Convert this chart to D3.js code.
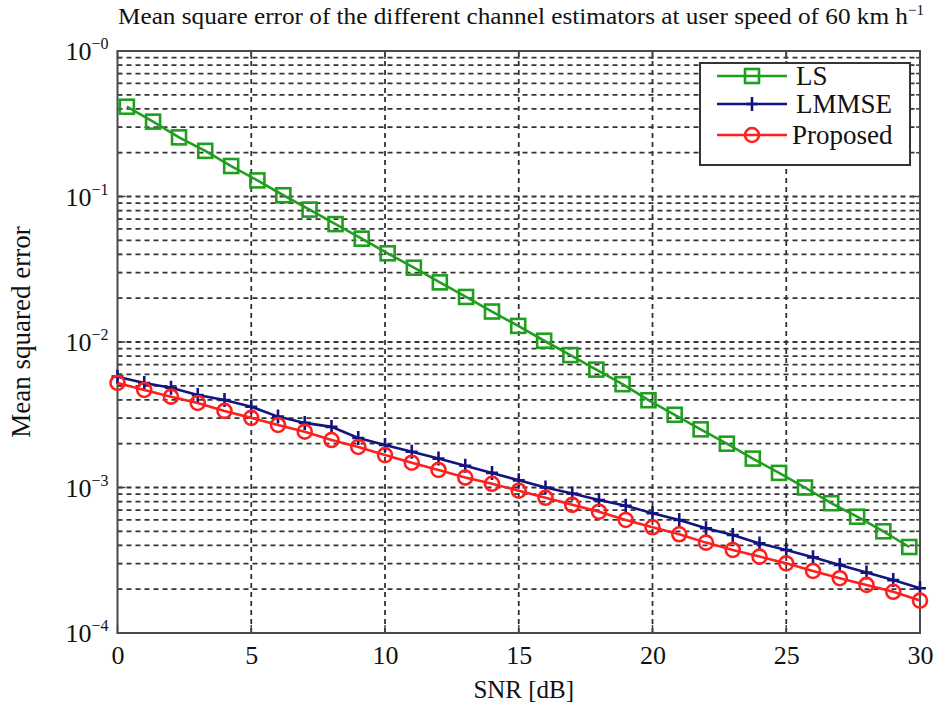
<!DOCTYPE html>
<html>
<head>
<meta charset="utf-8">
<script src="https://cdn.jsdelivr.net/npm/d3@7"></script>
<style>
  body { margin: 0; background: #fff; }
  svg text { font-family: "Liberation Serif", "Times New Roman", Tinos, Times, serif; fill: #111; }
</style>
</head>
<body>
<div id="chart"></div>
<script>
// values
var snr = [0,1,2,3,4,5,6,7,8,9,10,11,12,13,14,15,16,17,18,19,20,21,22,23,24,25,26,27,28,29,30];
var lmmse = [5.78e-3,5.22e-3,4.85e-3,4.32e-3,3.99e-3,3.59e-3,3.07e-3,2.78e-3,2.61e-3,2.19e-3,1.96e-3,
             1.76e-3,1.58e-3,1.41e-3,1.26e-3,1.12e-3,1.0e-3,9.1e-4,8.2e-4,7.5e-4,6.65e-4,5.98e-4,
             5.25e-4,4.72e-4,4.13e-4,3.72e-4,3.31e-4,2.93e-4,2.60e-4,2.31e-4,2.03e-4];
var proposed = [5.23e-3,4.68e-3,4.21e-3,3.81e-3,3.36e-3,3.01e-3,2.69e-3,2.42e-3,2.12e-3,1.90e-3,1.67e-3,
                1.48e-3,1.32e-3,1.17e-3,1.06e-3,9.5e-4,8.5e-4,7.6e-4,6.82e-4,5.98e-4,5.33e-4,4.77e-4,
                4.18e-4,3.72e-4,3.35e-4,3.01e-4,2.67e-4,2.38e-4,2.14e-4,1.92e-4,1.67e-4];
// LS markers sit a little off the integer SNR values in the picture
var lsSnr = [0.35,1.33,2.30,3.28,4.25,5.23,6.20,7.18,8.15,9.13,10.10,11.08,12.05,13.03,14.00,14.98,
             15.95,16.93,17.90,18.88,19.85,20.83,21.80,22.78,23.75,24.73,25.70,26.68,27.65,28.63,29.60];
var ls = [0.414,0.327,0.255,0.206,0.162,0.129,0.102,0.0813,0.0646,0.0513,0.0407,0.0324,0.0257,0.0204,
          0.0162,0.0129,0.0102,0.00813,0.00646,0.00513,0.00398,0.00316,0.00251,0.0020,0.00158,0.00126,
          0.0010,0.00078,0.00063,0.0005,0.00039];
var xTicks = [0,5,10,15,20,25,30];
var yDecades = [1,0.1,0.01,0.001,0.0001];
var yTickLabels = ["\u22120","\u22121","\u22122","\u22123","\u22124"];
var seriesNames = ["LS","LMMSE","Proposed"];
var seriesColors = ["#1f9e1f","#14147f","#ff1f1f"];

var width = 940, height = 706;
var margin = {left: 117.5, right: 20, top: 51, bottom: 73};

var svg = d3.select("#chart").append("svg")
    .attr("width", width)
    .attr("height", height);

var x = d3.scaleLinear().domain([0, 30]).range([margin.left, width - margin.right]);
var y = d3.scaleLog().domain([1e-4, 1]).range([height - margin.bottom, margin.top]);

// grid
var minor = [];
yDecades.forEach(function(d) {
    if (d < 1) for (var k = 1; k <= 9; k++) minor.push(d * k);
});

var grid = svg.append("g").attr("class", "grid");
grid.selectAll("line.h").data(minor.filter(function(v) { return v > 1e-4 && v < 1; }))
    .enter().append("line")
    .attr("x1", x(0)).attr("x2", x(30))
    .attr("y1", function(d) { return y(d); }).attr("y2", function(d) { return y(d); })
    .attr("stroke", "#333").attr("stroke-width", 1.8).attr("stroke-dasharray", "5,4");
grid.selectAll("line.v").data(xTicks.slice(1, -1))
    .enter().append("line")
    .attr("y1", y(1e-4)).attr("y2", y(1))
    .attr("x1", function(d) { return x(d); }).attr("x2", function(d) { return x(d); })
    .attr("stroke", "#333").attr("stroke-width", 1.8).attr("stroke-dasharray", "5,4");

// axes
var xAxis = d3.axisBottom(x).tickValues(xTicks).tickSize(0).tickPadding(13)
    .tickFormat(function(d) { return d; });
var gx = svg.append("g").attr("transform", "translate(0," + y(1e-4) + ")").call(xAxis);
gx.select(".domain").remove();
gx.attr("font-family", null);
gx.selectAll("text").attr("font-size", 26);

var gy = svg.append("g").attr("transform", "translate(" + x(0) + ",0)");
yDecades.forEach(function(d, i) {
    var t = gy.append("text")
        .attr("x", -9).attr("y", y(d) + 9)
        .attr("text-anchor", "end").attr("font-size", 26);
    t.append("tspan").text("10");
    t.append("tspan").attr("dy", -11).attr("font-size", 16).text(yTickLabels[i]);
});

// ticks on the inner side of the box
var tickG = svg.append("g");
minor.concat([1]).forEach(function(v) {
    if (v <= 1e-4 || v > 1) return;
    var len = (Math.abs(Math.log10(v) - Math.round(Math.log10(v))) < 1e-6) ? 8 : 4;
    tickG.append("line").attr("x1", x(0)).attr("x2", x(0) + len)
        .attr("y1", y(v)).attr("y2", y(v)).attr("stroke", "#444").attr("stroke-width", 1.5);
    tickG.append("line").attr("x1", x(30)).attr("x2", x(30) - len)
        .attr("y1", y(v)).attr("y2", y(v)).attr("stroke", "#444").attr("stroke-width", 1.5);
});
xTicks.forEach(function(t) {
    tickG.append("line").attr("x1", x(t)).attr("x2", x(t))
        .attr("y1", y(1e-4)).attr("y2", y(1e-4) - 8).attr("stroke", "#444").attr("stroke-width", 1.5);
    tickG.append("line").attr("x1", x(t)).attr("x2", x(t))
        .attr("y1", y(1)).attr("y2", y(1) + 8).attr("stroke", "#444").attr("stroke-width", 1.5);
});

svg.append("rect")
    .attr("x", x(0)).attr("y", y(1))
    .attr("width", x(30) - x(0)).attr("height", y(1e-4) - y(1))
    .attr("fill", "none").attr("stroke", "#4a4a4a").attr("stroke-width", 2);

// series
var line = d3.line()
    .x(function(d) { return x(d[0]); })
    .y(function(d) { return y(d[1]); });

var lsData = d3.zip(lsSnr, ls);
var lmmseData = d3.zip(snr, lmmse);
var propData = d3.zip(snr, proposed);

var plot = svg.append("g");

function drawSquare(g, cx, cy, color) {
    g.append("rect").attr("x", cx - 7).attr("y", cy - 7).attr("width", 14).attr("height", 14)
        .attr("fill", "none").attr("stroke", color).attr("stroke-width", 2.6);
}
function drawPlus(g, cx, cy, color) {
    g.append("path").attr("d", "M" + (cx - 6) + "," + cy + "H" + (cx + 6) + "M" + cx + "," + (cy - 7) + "V" + (cy + 7))
        .attr("stroke", color).attr("stroke-width", 2.6).attr("fill", "none");
}
function drawCircle(g, cx, cy, color) {
    g.append("circle").attr("cx", cx).attr("cy", cy).attr("r", 7)
        .attr("fill", "none").attr("stroke", color).attr("stroke-width", 2.6);
}

plot.append("path").datum(lsData).attr("d", line)
    .attr("fill", "none").attr("stroke", seriesColors[0]).attr("stroke-width", 2.6);
lsData.forEach(function(d) { drawSquare(plot, x(d[0]), y(d[1]), seriesColors[0]); });

plot.append("path").datum(lmmseData).attr("d", line)
    .attr("fill", "none").attr("stroke", seriesColors[1]).attr("stroke-width", 2.6);
lmmseData.forEach(function(d) { drawPlus(plot, x(d[0]), y(d[1]), seriesColors[1]); });

plot.append("path").datum(propData).attr("d", line)
    .attr("fill", "none").attr("stroke", seriesColors[2]).attr("stroke-width", 2.6);
propData.forEach(function(d) { drawCircle(plot, x(d[0]), y(d[1]), seriesColors[2]); });

// legend
var lg = svg.append("g");
lg.append("rect").attr("x", 700).attr("y", 63).attr("width", 210).attr("height", 102)
    .attr("fill", "#fff").attr("stroke", "#333").attr("stroke-width", 2);
var rowY = [76, 104, 135];
var markerFns = [drawSquare, drawPlus, drawCircle];
seriesNames.forEach(function(name, i) {
    lg.append("line").attr("x1", 717).attr("x2", 787).attr("y1", rowY[i]).attr("y2", rowY[i])
        .attr("stroke", seriesColors[i]).attr("stroke-width", 2.6);
    markerFns[i](lg, 752, rowY[i], seriesColors[i]);
    lg.append("text").attr("x", i == 2 ? 792 : 796).attr("y", rowY[i] + 9)
        .attr("font-size", 27).text(name);
});

// labels
var title = svg.append("text").attr("x", 118).attr("y", 24)
    .attr("font-size", 23);
title.append("tspan").attr("textLength", 790).attr("lengthAdjust", "spacingAndGlyphs")
    .text("Mean square error of the different channel estimators at user speed of 60 km h");
title.append("tspan").attr("dy", -9).attr("font-size", 15).text("\u22121");

svg.append("text").attr("x", x(15) + 5).attr("y", 698).attr("text-anchor", "middle")
    .attr("font-size", 25).text("SNR [dB]");

svg.append("text").attr("transform", "translate(30," + 332 + ") rotate(-90)")
    .attr("text-anchor", "middle").attr("font-size", 27)
    .text("Mean squared error");
</script>
</body>
</html>
